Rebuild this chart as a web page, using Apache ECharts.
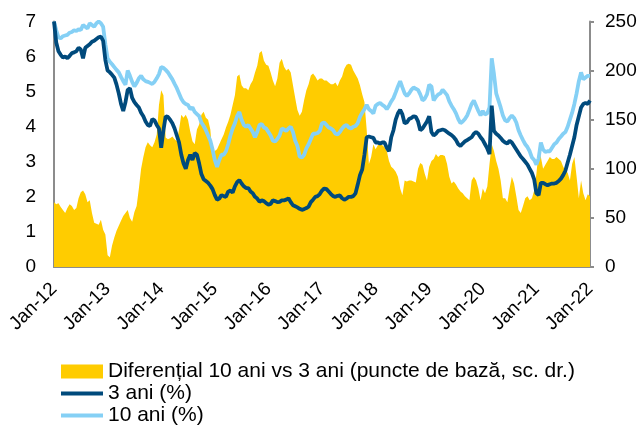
<!DOCTYPE html>
<html><head><meta charset="utf-8">
<script src="https://cdn.jsdelivr.net/npm/echarts@6/dist/echarts.min.js"></script>
<style>html,body{margin:0;padding:0;background:#fff}#c{width:641px;height:425px}</style>
</head><body><div id="c"></div>
<script>
// Semi-monthly observations, Jan-2012 .. Jan-2022 (241 points)
const tickLabels = ['Jan-12','Jan-13','Jan-14','Jan-15','Jan-16','Jan-17','Jan-18','Jan-19','Jan-20','Jan-21','Jan-22'];
const seriesNames = ['Diferențial 10 ani vs 3 ani (puncte de bază, sc. dr.)', '3 ani (%)', '10 ani (%)'];

// spread 10y - 3y, basis points (right axis)
const spreadBp = [
66,64,65,61,58,55,60,64,62,58,60,70,76,78,74,66,68,55,45,44,43,48,38,33,
12,10,22,30,37,42,47,52,55,58,50,46,56,62,80,100,112,122,127,124,122,127,135,165,
180,175,132,130,131,133,130,128,140,155,152,155,150,138,128,125,140,145,155,158,152,150,140,112,
118,120,125,130,135,142,148,155,165,175,194,196,185,182,182,180,186,190,198,205,218,220,210,206,
205,198,190,184,192,208,212,204,200,202,198,185,172,160,154,158,170,180,186,195,197,194,190,192,
192,190,190,188,186,186,188,184,190,194,202,206,207,206,200,196,192,185,176,168,140,105,112,125,
120,124,126,124,122,118,108,102,100,97,92,80,73,88,87,88,88,87,86,100,106,104,95,88,
102,108,110,115,112,114,114,113,105,92,85,87,84,80,77,75,72,70,68,88,92,88,80,68,
80,75,82,105,125,118,108,100,88,70,70,66,80,92,85,72,58,55,62,70,72,68,70,78,
95,118,112,100,104,108,112,110,110,112,110,108,102,98,96,88,105,112,92,70,88,75,68,74,
72];

// 3-year yield, %
const yield3y = [
7.0,6.4,6.15,6.05,5.97,6.0,5.95,6.02,6.1,6.12,6.15,6.25,6.2,5.95,6.25,6.3,6.35,6.42,6.45,6.5,6.55,6.57,6.45,5.9,
5.6,5.55,5.48,5.4,5.2,4.95,4.65,4.45,4.7,5.05,5.1,4.82,4.7,4.62,4.55,4.4,4.3,4.15,4.05,4.02,4.22,4.18,4.05,3.95,
3.4,3.9,4.3,4.28,4.2,4.1,3.95,3.75,3.55,3.2,2.95,2.8,3.05,3.2,3.05,3.25,3.2,2.95,2.65,2.5,2.45,2.4,2.32,2.22,
2.05,1.92,1.95,2.05,2.02,2.0,2.15,2.18,2.12,2.3,2.42,2.48,2.38,2.3,2.25,2.25,2.15,2.1,2.0,1.95,1.86,1.9,1.88,1.82,
1.78,1.8,1.9,1.88,1.85,1.86,1.9,1.9,1.92,1.96,1.85,1.76,1.73,1.7,1.66,1.63,1.65,1.68,1.72,1.85,1.92,2.0,2.02,2.08,
2.18,2.24,2.22,2.15,2.08,2.02,2.0,2.03,2.04,1.96,1.92,1.95,2.0,2.0,2.02,2.1,2.35,2.62,2.78,3.2,3.7,3.72,3.7,3.68,
3.55,3.55,3.52,3.55,3.55,3.4,3.3,3.7,3.9,4.2,4.38,4.48,4.35,4.1,4.12,4.22,4.25,4.3,4.28,4.15,3.9,3.95,4.05,4.15,
4.3,3.85,3.75,3.8,3.88,3.9,3.92,3.9,3.85,3.8,3.76,3.7,3.62,3.5,3.45,3.52,3.58,3.62,3.66,3.7,3.8,3.85,3.8,3.7,
3.62,3.5,3.38,3.22,4.6,3.88,3.8,3.75,3.68,3.6,3.55,3.52,3.6,3.55,3.45,3.35,3.25,3.15,3.08,3.0,2.92,2.8,2.68,2.5,
2.1,2.05,2.4,2.4,2.36,2.33,2.36,2.38,2.38,2.4,2.45,2.52,2.62,2.75,2.98,3.2,3.45,3.7,4.05,4.3,4.55,4.65,4.68,4.65,
4.75];

// 10-year yield, %
const yield10y = [
7.0,6.75,6.55,6.52,6.58,6.6,6.62,6.68,6.7,6.75,6.73,6.78,6.76,6.9,6.85,6.8,6.95,6.9,6.85,6.95,7.0,6.95,6.85,6.35,
5.95,5.85,5.78,5.7,5.62,5.55,5.42,5.3,5.2,5.6,5.45,5.28,5.15,5.25,5.38,5.45,5.35,5.3,5.28,5.25,5.22,5.28,5.38,5.5,
5.7,5.68,5.62,5.55,5.45,5.35,5.22,5.1,4.95,4.8,4.7,4.65,4.62,4.5,4.55,4.42,4.36,4.3,4.12,4.02,3.9,3.75,3.6,3.35,
3.05,2.85,3.05,3.2,3.2,3.3,3.5,3.75,3.95,4.1,4.3,4.42,4.2,4.05,4.0,4.05,3.95,3.85,3.7,3.85,4.05,4.08,3.98,3.95,
3.85,3.75,3.6,3.58,3.65,3.75,3.95,3.92,3.88,3.95,4.0,3.85,3.6,3.45,3.15,3.12,3.2,3.38,3.5,3.65,3.8,3.8,3.82,3.88,
4.1,4.12,4.05,3.98,3.95,3.9,3.8,3.78,3.85,3.95,4.02,4.05,3.98,3.95,4.0,4.02,4.1,4.28,4.4,4.5,4.62,4.5,4.45,4.38,
4.6,4.65,4.68,4.62,4.58,4.5,4.6,4.72,4.82,4.98,5.15,5.3,5.12,4.95,4.88,4.95,5.05,5.12,5.08,5.05,4.92,4.75,4.8,4.92,
5.2,5.15,4.75,4.85,4.92,4.95,5.05,4.98,4.9,4.72,4.6,4.5,4.38,4.22,4.1,4.15,4.22,4.32,4.48,4.65,4.75,4.6,4.45,4.32,
4.45,4.35,4.38,4.55,5.95,5.5,4.95,4.75,4.55,4.32,4.18,4.15,4.25,4.32,4.25,4.12,3.9,3.75,3.62,3.5,3.42,3.3,3.12,3.05,
2.92,3.1,3.55,3.35,3.28,3.3,3.3,3.4,3.5,3.55,3.65,3.72,3.8,3.85,4.0,4.2,4.4,4.65,4.95,5.3,5.55,5.35,5.4,5.45,
5.45];

// category axis: half-month steps
const categories = [];
for (let i = 0; i < spreadBp.length; i++) {
  const y = 2012 + Math.floor(i / 24), r = i % 24;
  const mo = Math.floor(r / 2) + 1;
  categories.push(y + '-' + String(mo).padStart(2,'0') + (r % 2 ? '-16' : '-01'));
}

const FONT = 'Liberation Sans, Arial, sans-serif';
const legendText = {fontFamily:FONT, fontSize:21, color:'#000'};
function legendRow(name, top, h){
  return {orient:'vertical', left:61, top:top, padding:0, itemWidth:42, itemHeight:h, itemGap:0,
          textStyle:legendText, data:[{name:name, icon:'rect'}]};
}
const chart = echarts.init(document.getElementById('c'), null, {renderer:'canvas'});
chart.setOption({
  animation:false,
  backgroundColor:'#fff',
  grid:{left:54, right:51, top:21.5, bottom:158, containLabel:false},
  legend:[
    legendRow(seriesNames[0], 361, 14),
    legendRow(seriesNames[1], 383, 4),
    legendRow(seriesNames[2], 405, 4)
  ],
  xAxis:{
    type:'category', data:categories, boundaryGap:false,
    axisLine:{show:true, lineStyle:{color:'#8c8c8c', width:2}},
    axisTick:{show:false},
    axisLabel:{
      interval:function(i){return i % 24 === 0;},
      formatter:function(v, i){return tickLabels[i/24];},
      rotate:45, margin:19, fontFamily:FONT, fontSize:19, color:'#000'
    },
    splitLine:{show:false}
  },
  yAxis:[
    {type:'value', min:0, max:7, interval:1, position:'left',
     axisLine:{show:true, lineStyle:{color:'#8c8c8c', width:2}},
     axisTick:{show:false}, splitLine:{show:false},
     axisLabel:{fontFamily:FONT, fontSize:19, color:'#000', margin:18}},
    {type:'value', min:0, max:250, interval:50, position:'right',
     axisLine:{show:true, lineStyle:{color:'#8c8c8c', width:2}},
     axisTick:{show:true, length:4, lineStyle:{color:'#8c8c8c', width:2}}, splitLine:{show:false},
     axisLabel:{fontFamily:FONT, fontSize:19, color:'#000', margin:15}}
  ],
  series:[
    {name:seriesNames[0], type:'line', yAxisIndex:1, data:spreadBp, symbol:'none',
     lineStyle:{width:0, color:'#FFCC00'}, itemStyle:{color:'#FFCC00'},
     areaStyle:{color:'#FFCC00', opacity:1}, z:1},
    {name:seriesNames[2], type:'line', yAxisIndex:0, data:yield10y, symbol:'none',
     lineStyle:{width:3.8, color:'#85D0F5'}, itemStyle:{color:'#85D0F5'}, z:2},
    {name:seriesNames[1], type:'line', yAxisIndex:0, data:yield3y, symbol:'none',
     lineStyle:{width:3.8, color:'#004A7C'}, itemStyle:{color:'#004A7C'}, z:3}
  ]
});
</script></body></html>
